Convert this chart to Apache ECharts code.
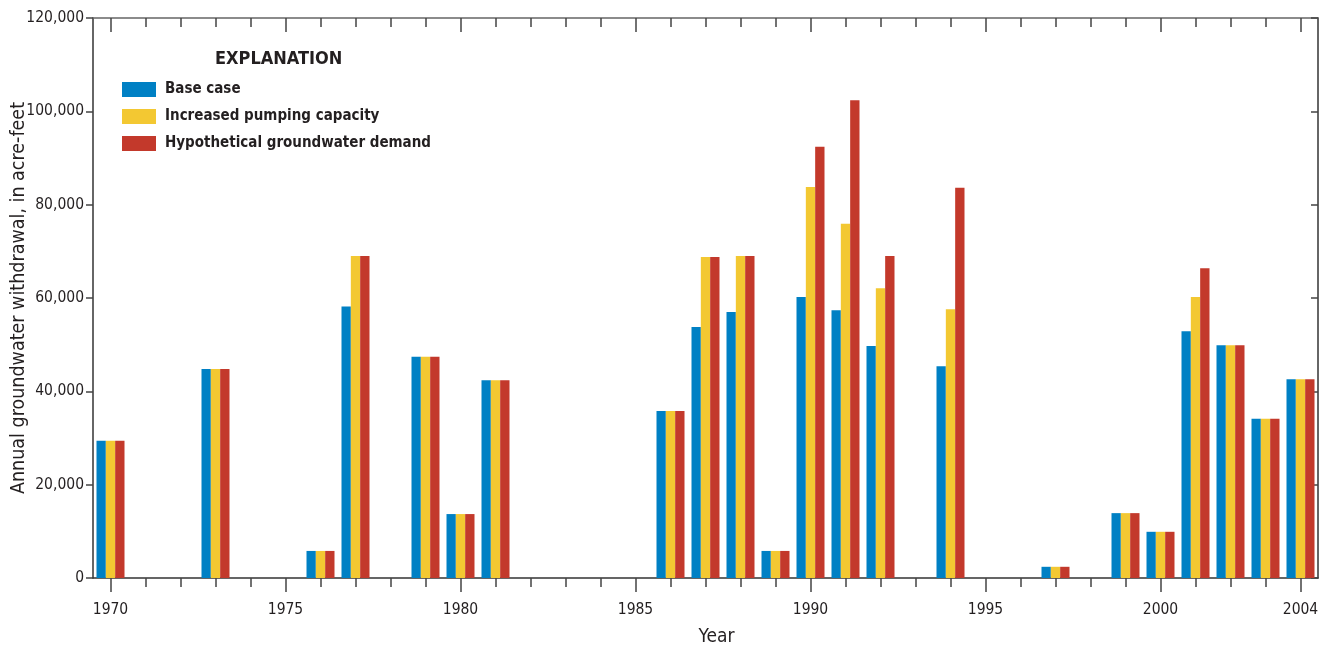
<!DOCTYPE html>
<html>
<head>
<meta charset="utf-8">
<script src="https://cdn.jsdelivr.net/npm/echarts@6/dist/echarts.min.js"></script>
<style>
  html, body { margin: 0; padding: 0; background: #fff; }
  #chart { width: 1325px; height: 646px; }
</style>
</head>
<body>
<div id="chart"></div>
<script>
const years = [];
for (let y = 1970; y <= 2004; y++) years.push(String(y));

// acre-feet per year (0 = no withdrawal)
const baseCase = [
  29400, 0, 0, 44800, 0, 0, 5800, 58200, 0, 47400,
  13700, 42400, 0, 0, 0, 0, 35800, 53800, 57000, 5800,
  60200, 57400, 49700, 0, 45400, 0, 0, 2400, 0, 13900,
  9900, 52900, 49900, 34100, 42600
];
const increasedPumping = [
  29400, 0, 0, 44800, 0, 0, 5800, 69000, 0, 47400,
  13700, 42400, 0, 0, 0, 0, 35800, 68800, 69000, 5800,
  83800, 75900, 62100, 0, 57600, 0, 0, 2400, 0, 13900,
  9900, 60200, 49900, 34100, 42600
];
const hypotheticalDemand = [
  29400, 0, 0, 44800, 0, 0, 5800, 69000, 0, 47400,
  13700, 42400, 0, 0, 0, 0, 35800, 68800, 69000, 5800,
  92400, 102400, 69000, 0, 83600, 0, 0, 2400, 0, 13900,
  9900, 66400, 49900, 34100, 42600
];
const seriesNames = ["Base case", "Increased pumping capacity", "Hypothetical groundwater demand"];
const colors = ["#0080C4", "#F3C832", "#C3392B"];

const font = "'DejaVu Sans Condensed', 'Liberation Sans', sans-serif";
const isMajor = (i, v) => Number(v) % 5 === 0 || v === "2004";
const commas = v => String(v).replace(/\B(?=(\d{3})+(?!\d))/g, ",");

const chart = echarts.init(document.getElementById("chart"));

const tickStyle = { color: "#444", width: 1.5 };
const baseX = {
  type: "category",
  data: years,
  axisLabel: { show: false },
  axisLine: { show: false },
  splitLine: { show: false },
  axisTick: { show: true, alignWithLabel: true, interval: 0, lineStyle: tickStyle }
};

chart.setOption({
  backgroundColor: "#fff",
  animation: false,
  title: {
    text: "EXPLANATION",
    left: 210, top: 45,
    textStyle: { fontFamily: font, fontSize: 18, fontWeight: "bold", color: "#231f20" }
  },
  legend: {
    data: seriesNames,
    orient: "vertical",
    left: 117, top: 77,
    itemWidth: 34, itemHeight: 15, itemGap: 12,
    icon: "rect",
    textStyle: { fontFamily: font, fontSize: 15, fontWeight: "bold", color: "#231f20", padding: [0, 0, 0, 4] }
  },
  grid: { left: 93, right: 7, top: 18, bottom: 68, containLabel: false, outerBoundsMode: "none" },
  xAxis: [
    {
      type: "category",
      data: years,
      name: "Year",
      nameLocation: "middle",
      nameGap: 50,
      nameMoveOverlap: false,
      nameTextStyle: { fontFamily: font, fontSize: 19, color: "#231f20", padding: [0, 0, 0, 22] },
      axisLine: { lineStyle: { color: "#333", width: 1.5 } },
      axisTick: { show: true, alignWithLabel: true, interval: 0, length: 9, lineStyle: tickStyle },
      axisLabel: { interval: isMajor, fontFamily: font, fontSize: 15.5, color: "#231f20", margin: 24 },
      splitLine: { show: false }
    },
    Object.assign({}, baseX, {
      position: "bottom",
      axisTick: Object.assign({}, baseX.axisTick, { interval: isMajor, length: 14 })
    }),
    Object.assign({}, baseX, {
      position: "top",
      axisLine: { show: true, lineStyle: { color: "#666", width: 1.5 } },
      axisTick: Object.assign({}, baseX.axisTick, { inside: true, length: 9 })
    }),
    Object.assign({}, baseX, {
      position: "top",
      axisTick: Object.assign({}, baseX.axisTick, { inside: true, interval: isMajor, length: 14 })
    })
  ],
  yAxis: [
    {
      type: "value",
      min: 0, max: 120000, interval: 20000,
      name: "Annual groundwater withdrawal, in acre-feet",
      nameLocation: "middle",
      nameGap: 64,
      nameMoveOverlap: false,
      nameTextStyle: { fontFamily: font, fontSize: 19.5, color: "#231f20" },
      axisLine: { show: true, lineStyle: { color: "#333", width: 1.5 } },
      axisTick: { show: true, length: 7, lineStyle: tickStyle },
      axisLabel: { fontFamily: font, fontSize: 15.5, color: "#231f20", margin: 9, formatter: commas },
      splitLine: { show: false }
    },
    {
      type: "value",
      position: "right",
      min: 0, max: 120000, interval: 20000,
      axisLine: { show: true, lineStyle: { color: "#333", width: 1.5 } },
      axisTick: { show: true, inside: true, length: 7, lineStyle: tickStyle },
      axisLabel: { show: false },
      splitLine: { show: false }
    }
  ],
  series: [baseCase, increasedPumping, hypotheticalDemand].map((d, i) => ({
    name: seriesNames[i],
    type: "bar",
    data: d,
    xAxisIndex: 0,
    yAxisIndex: 0,
    barGap: "0%",
    barCategoryGap: "20%",
    itemStyle: { color: colors[i] }
  }))
});
</script>
</body>
</html>
